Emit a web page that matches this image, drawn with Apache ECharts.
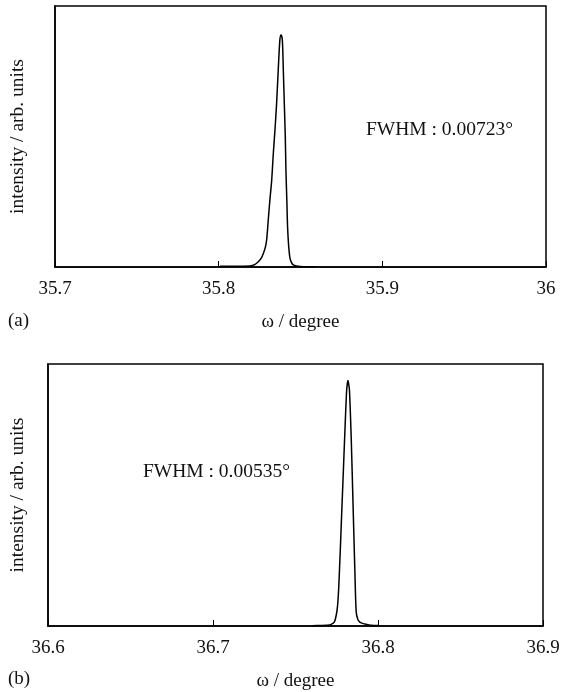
<!DOCTYPE html>
<html>
<head>
<meta charset="utf-8">
<script src="https://cdn.jsdelivr.net/npm/echarts@6/dist/echarts.min.js"></script>
<style>
html,body{margin:0;padding:0;background:#fff;}
#chart{width:563px;height:692px;}
</style>
</head>
<body>
<div id="chart"></div>
<script>
// Panel (a)
var topOmega = [35.8008, 35.8100, 35.8191, 35.8220, 35.8242, 35.8260, 35.8273, 35.8285, 35.8293, 35.8303, 35.8313, 35.8324, 35.8334, 35.8344, 35.8354, 35.8364, 35.8374, 35.8381, 35.8389, 35.8395, 35.8401, 35.8407, 35.8411, 35.8417, 35.8421, 35.8428, 35.8436, 35.8446, 35.8456, 35.8475, 35.8497, 35.8540, 35.8588];
var topIntensity = [0.003, 0.003, 0.004, 0.009, 0.020, 0.034, 0.052, 0.075, 0.103, 0.180, 0.257, 0.333, 0.436, 0.525, 0.627, 0.755, 0.870, 0.889, 0.870, 0.755, 0.627, 0.500, 0.372, 0.244, 0.154, 0.078, 0.033, 0.016, 0.008, 0.004, 0.002, 0.001, 0.001];
var topTicks = [35.7, 35.8, 35.9, 36];
var topNote = "FWHM : 0.00723°";

// Panel (b)
var botOmega = [36.7602, 36.7650, 36.7690, 36.7716, 36.7737, 36.7755, 36.7766, 36.7777, 36.7788, 36.7799, 36.7809, 36.7814, 36.7818, 36.7822, 36.7827, 36.7838, 36.7849, 36.7860, 36.7868, 36.7878, 36.7890, 36.7910, 36.7933, 36.7960, 36.7999];
var botIntensity = [0.001, 0.002, 0.003, 0.006, 0.017, 0.078, 0.205, 0.382, 0.559, 0.737, 0.889, 0.925, 0.937, 0.925, 0.901, 0.711, 0.458, 0.205, 0.053, 0.025, 0.015, 0.009, 0.006, 0.003, 0.002];
var botTicks = [36.6, 36.7, 36.8, 36.9];
var botNote = "FWHM : 0.00535°";

var xName = "ω / degree";
var yName = "intensity / arb. units";
var FONT = "'Liberation Serif', 'Times New Roman', serif";

function zip(a, b) { return a.map(function (v, i) { return [v, b[i]]; }); }

function xAx(gridIndex, ticks) {
  return {
    type: 'value', gridIndex: gridIndex,
    min: ticks[0], max: ticks[ticks.length - 1], interval: 0.1,
    axisLine: { show: true, lineStyle: { color: '#000', width: 1.5 } },
    axisTick: { show: true, inside: true, length: 6, lineStyle: { color: '#000', width: 1 } },
    splitLine: { show: false },
    axisLabel: { color: '#111', fontFamily: FONT, fontSize: 19, margin: 13,
      showMinLabel: true, showMaxLabel: true,
      formatter: function (v) { return String(+(+v).toFixed(1)); } },
    name: xName, nameLocation: 'middle', nameGap: 46,
    nameTextStyle: { color: '#111', fontFamily: FONT, fontSize: 19 }
  };
}
function yAx(gridIndex, gap) {
  return {
    type: 'value', gridIndex: gridIndex, min: 0, max: 1,
    axisLine: { show: true, lineStyle: { color: '#000', width: 1.5 } },
    axisTick: { show: false }, axisLabel: { show: false }, splitLine: { show: false },
    name: yName, nameLocation: 'middle', nameRotate: 90, nameGap: gap,
    nameTextStyle: { color: '#111', fontFamily: FONT, fontSize: 19.5 }
  };
}

var chart = echarts.init(document.getElementById('chart'), null, { renderer: 'canvas' });
chart.setOption({
  backgroundColor: '#fff',
  animation: false,
  grid: [
    { left: 55, right: 17, top: 6, height: 261, show: true, borderColor: '#000', borderWidth: 1.5 },
    { left: 47.5, right: 20, top: 364, height: 263, show: true, borderColor: '#000', borderWidth: 1.5 }
  ],
  xAxis: [xAx(0, topTicks), xAx(1, botTicks)],
  yAxis: [yAx(0, 27), yAx(1, 20)],
  series: [
    { type: 'line', xAxisIndex: 0, yAxisIndex: 0, data: zip(topOmega, topIntensity),
      showSymbol: false, smooth: 0.3, lineStyle: { color: '#000', width: 1.5 } },
    { type: 'line', xAxisIndex: 1, yAxisIndex: 1, data: zip(botOmega, botIntensity),
      showSymbol: false, smooth: 0.3, lineStyle: { color: '#000', width: 1.5 } }
  ],
  graphic: [
    { type: 'text', left: 366, top: 120, style: { text: topNote, fill: '#111', font: '19.5px ' + FONT } },
    { type: 'text', left: 143, top: 462, style: { text: botNote, fill: '#111', font: '19.5px ' + FONT } },
    { type: 'text', left: 8, top: 312, style: { text: '(a)', fill: '#111', font: '19px ' + FONT } },
    { type: 'text', left: 8, top: 670, style: { text: '(b)', fill: '#111', font: '19px ' + FONT } }
  ]
});
</script>
</body>
</html>
